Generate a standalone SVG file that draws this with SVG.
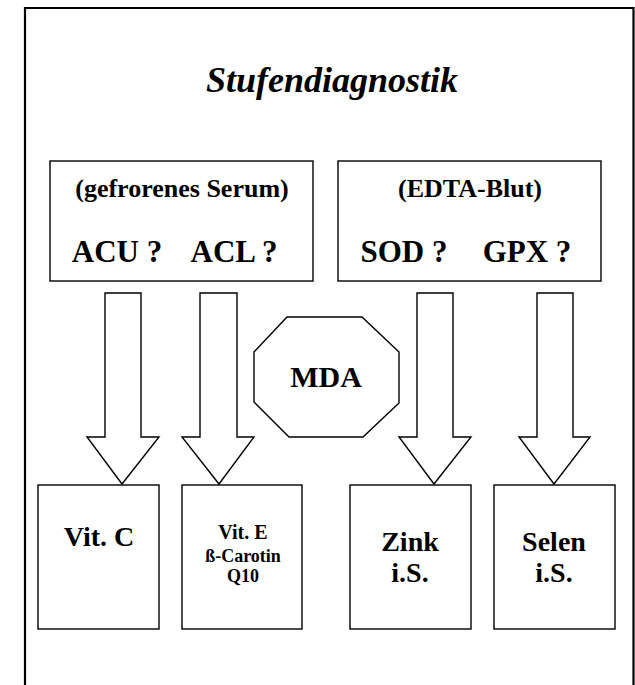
<svg xmlns="http://www.w3.org/2000/svg" width="635" height="685" viewBox="0 0 635 685">
<style>
.b{fill:#fff;stroke:#000;stroke-width:1.4}
.t{font-family:"Liberation Serif","Times New Roman",serif;font-weight:bold;fill:#000;text-anchor:middle}
</style>
<rect x="0" y="0" width="635" height="685" fill="#fff"/>
<path d="M25,690 V8 H633.5 V690" fill="none" stroke="#000" stroke-width="2.2"/>
<text class="t" x="332" y="92" font-size="36" font-style="italic">Stufendiagnostik</text>
<g id="serum">
<rect class="b" x="50" y="161" width="263" height="120"/>
<text class="t" x="182" y="197" font-size="26">(gefrorenes Serum)</text>
<text class="t" x="117" y="262" font-size="31">ACU ?</text>
<text class="t" x="234" y="262" font-size="31">ACL ?</text>
</g>
<g id="edta">
<rect class="b" x="338" y="161" width="263" height="120"/>
<text class="t" x="470" y="197" font-size="26">(EDTA-Blut)</text>
<text class="t" x="404" y="262" font-size="31">SOD ?</text>
<text class="t" x="527" y="262" font-size="31">GPX ?</text>
</g>
<g id="connectors">
<path class="b" d="M105,293 H141 V437 H159 L122,484 L87,437 H105 Z"/>
<path class="b" d="M200,293 H237 V437 H254 L219,484 L182,437 H200 Z"/>
<path class="b" d="M417,293 H453 V437 H471 L434,484 L399,437 H417 Z"/>
<path class="b" d="M537,293 H573 V437 H590 L554,484 L519,437 H537 Z"/>
</g>
<g id="mda">
<polygon class="b" points="287,317 362,317 399,352 399,403 363,437 289,437 254,402 254,352"/>
<text class="t" x="326" y="387" font-size="30">MDA</text>
</g>
<g id="vitc">
<rect class="b" x="38" y="485" width="121" height="144"/>
<text class="t" x="99" y="546" font-size="28">Vit. C</text>
</g>
<g id="vite">
<rect class="b" x="182" y="485" width="120" height="144"/>
<text class="t" x="243" y="539" font-size="20">Vit. E</text>
<text class="t" x="243" y="562" font-size="18">ß-Carotin</text>
<text class="t" x="243" y="582" font-size="18">Q10</text>
</g>
<g id="zink">
<rect class="b" x="350" y="485" width="121" height="144"/>
<text class="t" x="410" y="551" font-size="28">Zink</text>
<text class="t" x="410" y="582" font-size="28">i.S.</text>
</g>
<g id="selen">
<rect class="b" x="494" y="485" width="121" height="144"/>
<text class="t" x="554" y="551" font-size="28">Selen</text>
<text class="t" x="554" y="582" font-size="28">i.S.</text>
</g>
</svg>
